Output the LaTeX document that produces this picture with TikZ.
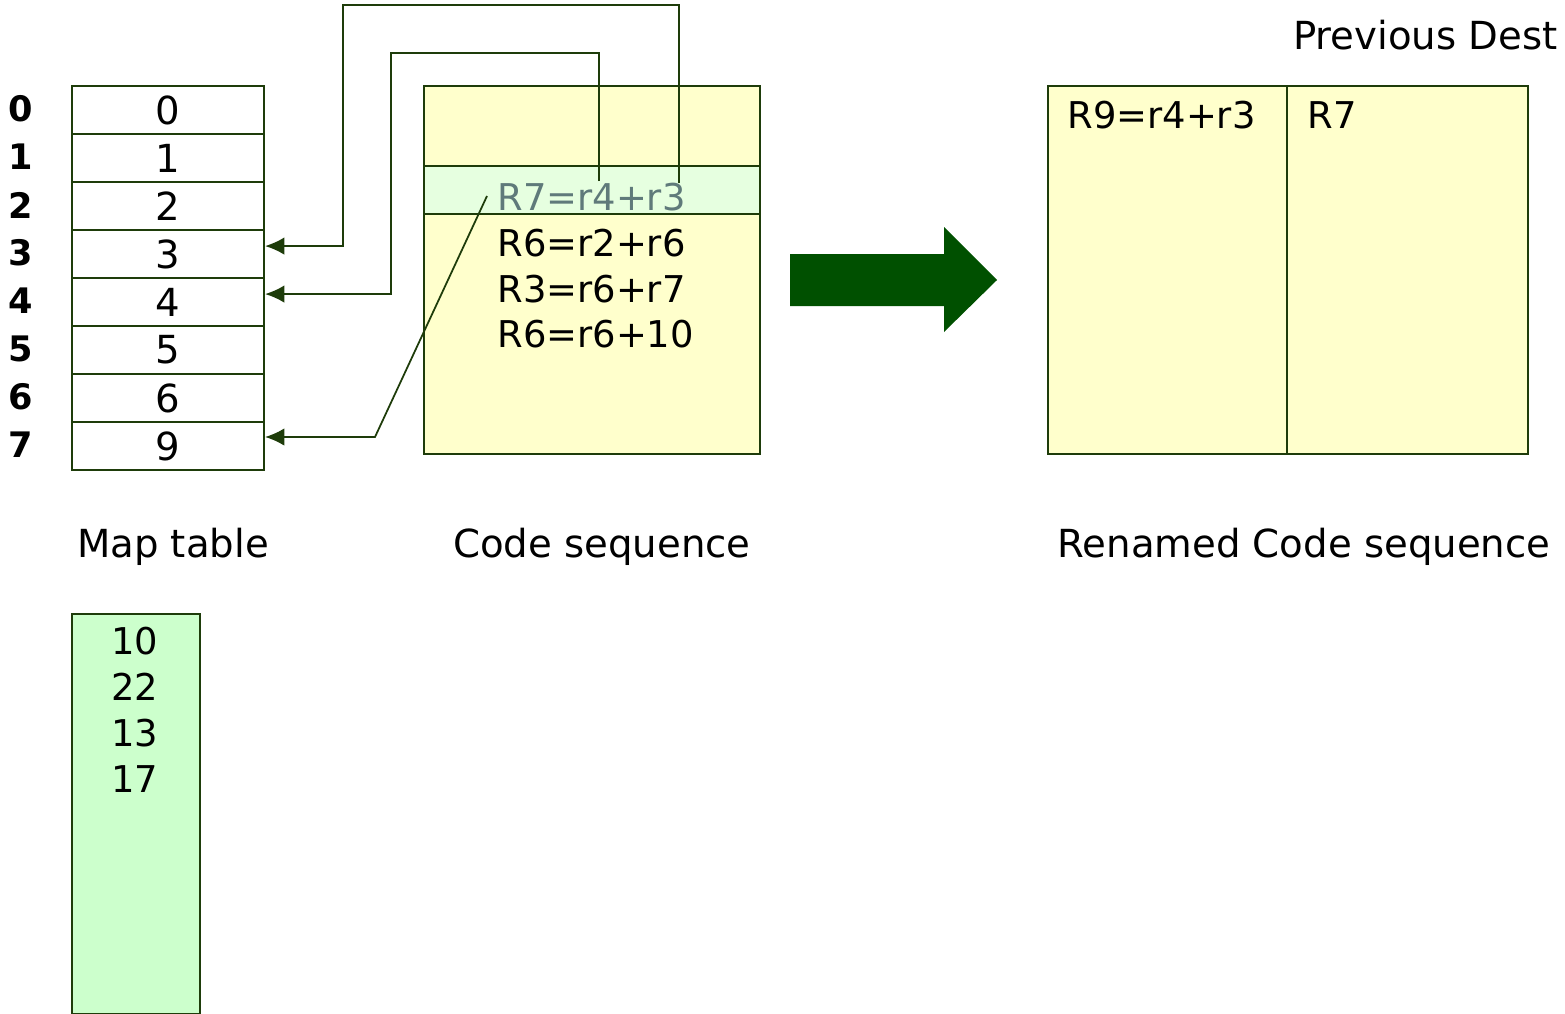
\documentclass[tikz,border=0pt]{standalone}
\usepackage{fontspec}
\setmainfont{DejaVu Sans}
\usetikzlibrary{arrows.meta}
\definecolor{dg}{RGB}{30,60,10}
\definecolor{yel}{RGB}{255,255,204}
\definecolor{hl}{RGB}{230,255,224}
\definecolor{fl}{RGB}{204,255,204}
\definecolor{ar}{RGB}{0,80,0}
\definecolor{gr}{RGB}{95,122,122}
\begin{document}
\begin{tikzpicture}[x=0.02cm,y=-0.02cm,
  box/.style={draw=dg,line width=1.2pt},
  cell/.style={box,fill=white,minimum width=192*0.02cm,minimum height=48*0.02cm,inner sep=0pt,anchor=north west,font=\fontsize{22}{24}\selectfont},
  idx/.style={font=\bfseries\fontsize{20}{22}\selectfont},
  code/.style={font=\fontsize{21}{26}\selectfont,inner sep=0pt},
  lbl/.style={font=\fontsize{22}{26}\selectfont,inner sep=0pt},
  conn/.style={draw=dg,line width=1pt},
  tip/.style={-{Latex[length=11pt,width=10pt]}}]
\useasboundingbox (0,0) rectangle (1565,1014);
% map table
\foreach \i/\v in {0/0,1/1,2/2,3/3,4/4,5/5,6/6,7/9}{
  \node[cell] (m\i) at (71,85+48*\i) {\v};
  \node[idx] (n\i) at (21,109+48*\i) {\i};
}
% code sequence box
\node[box,fill=yel,minimum width=336*0.02cm,minimum height=368*0.02cm,inner sep=0pt,anchor=north west] (cs) at (423,85) {};
\node[box,fill=hl,minimum width=336*0.02cm,minimum height=48*0.02cm,inner sep=0pt,anchor=north west] (hr) at (423,165) {};
\node[code,text=gr,anchor=west] (c1) at (497,197) {R7=r4+r3};
\node[code,anchor=west] (c2) at (497,243) {R6=r2+r6};
\node[code,anchor=west] (c3) at (497,289) {R3=r6+r7};
\node[code,anchor=west] (c4) at (497,334) {R6=r6+10};
% connectors
\coordinate (s1) at (679,183);
\coordinate (s2) at (599,181);
\coordinate (s3) at (487,196);
\coordinate (k3) at (375,437);
\draw[conn,tip] (s1) |- (343,5) |- ([yshift=0.16cm]m3.east);
\draw[conn,tip] (s2) |- (391,53) |- ([yshift=0.16cm]m4.east);
\draw[conn,tip] (s3) -- (k3) -- (k3 -| m7.east);
% big arrow
\fill[ar] (790,254) -- (944,254) -- (944,227) -- (997,280) -- (944,332) -- (944,306) -- (790,306) -- cycle;
% renamed box
\node[box,fill=yel,minimum width=480*0.02cm,minimum height=368*0.02cm,inner sep=0pt,anchor=north west] (rn) at (1047,85) {};
\draw[conn,line width=1.2pt] (rn.north west) ++(240,0) coordinate (dv) -- (dv |- rn.south);
\node[code,anchor=west] (r1) at (1067,115) {R9=r4+r3};
\node[code,anchor=west] (r2) at (1307,115) {R7};
\node[lbl,anchor=east] (pd) at (1558,35) {Previous Dest};
% labels
\node[lbl] (l1) at (173,547) {Map table};
\node[lbl] (l2) at (602,547) {Code sequence};
\node[lbl] (l3) at (1304,547) {Renamed Code sequence};
% free list
\node[box,fill=fl,minimum width=128*0.02cm,minimum height=400*0.02cm,inner sep=0pt,anchor=north west] (fr) at (71,613) {};
\foreach \v [count=\k from 0] in {10,22,13,17}
  \node[code] (f\k) at (135,641+46*\k) {\v};
\end{tikzpicture}
\end{document}
